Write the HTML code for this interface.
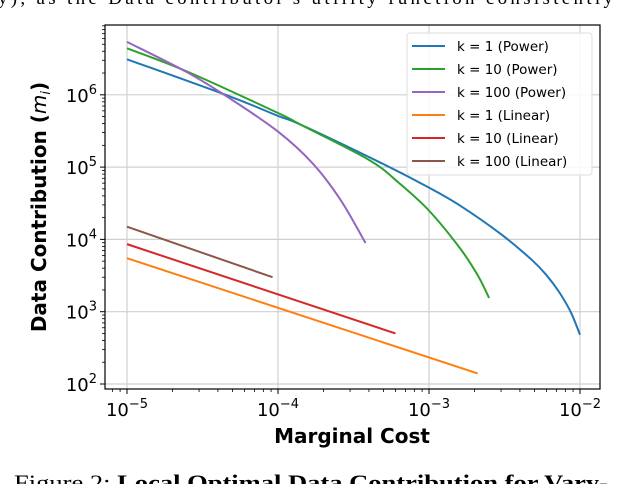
<!DOCTYPE html>
<html><head><meta charset="utf-8"><style>
html,body{margin:0;padding:0;background:#fff;width:622px;height:484px;overflow:hidden}
svg{display:block;font-family:"DejaVu Sans","Liberation Sans",sans-serif}
</style></head><body>
<svg id="c" width="622" height="484" viewBox="0 0 622 484"></svg>
<script>
const xTickExps=[-5,-4,-3,-2];
const yTickExps=[2,3,4,5,6];
const seriesNames=["k = 1 (Power)","k = 10 (Power)","k = 100 (Power)","k = 1 (Linear)","k = 10 (Linear)","k = 100 (Linear)"];
const seriesColors=["#1f77b4","#2ca02c","#9467bd","#ff7f0e","#d62728","#8c564b"];
const blueX=[1e-5,4.8e-5,1e-4,1.4e-4,4.7e-4,1e-3,1.6e-3,3e-3,4.8e-3,6e-3,7.3e-3,8.7e-3,1e-2];
const blueY=[3.1e6,9.5e5,5.1e5,3.9e5,1.17e5,5.2e4,2.95e4,1.18e4,5.2e3,3.2e3,1.85e3,980,480];
const greenX=[1e-5,2.5e-5,1e-4,1.4e-4,4e-4,6.4e-4,1e-3,1.6e-3,2.1e-3,2.5e-3];
const greenY=[4.4e6,2.1e6,5.6e5,3.9e5,1.26e5,5.9e4,2.5e4,7.6e3,3.2e3,1.55e3];
const purpleX=[1e-5,2.5e-5,4.8e-5,1e-4,1.7e-4,2.6e-4,3.8e-4];
const purpleY=[5.4e6,2.05e6,8.9e5,3.1e5,1.12e5,3.5e4,8.9e3];
const orangeX=[1e-5,2.1e-3];
const orangeY=[5.5e3,140];
const redX=[1e-5,6e-4];
const redY=[8.6e3,500];
const brownX=[1e-5,9.2e-5];
const brownY=[1.5e4,3.0e3];

const L=105,R=600,T=25,B=389;
const X0=127,XD=151,Y0=384,YD=72.3;
const xs=v=>X0+(Math.log10(v)+5)*XD;
const ys=v=>Y0-(Math.log10(v)-2)*YD;
const NS="http://www.w3.org/2000/svg";
const svg=document.getElementById('c');
function mk(t,a,p){const e=document.createElementNS(NS,t);for(const k in a)e.setAttribute(k,a[k]);(p||svg).appendChild(e);return e;}

let t=mk('text',{x:-2,y:4,'font-family':'Liberation Serif,serif','font-size':19,textLength:615});t.textContent="y), as the Data contributor's utility function consistently";

t=mk('text',{x:14,y:490,'font-family':'Liberation Serif,serif','font-size':22,textLength:594,lengthAdjust:'spacingAndGlyphs'});

t.innerHTML='Figure 2: <tspan font-weight="bold">Local Optimal Data Contribution for Vary-</tspan>';

const g=mk('g',{});
xTickExps.forEach(e=>{const x=xs(Math.pow(10,e));mk('line',{x1:x,x2:x,y1:T,y2:B,stroke:'#d0d0d0','stroke-width':1.2},g);});
yTickExps.forEach(e=>{const y=ys(Math.pow(10,e));mk('line',{x1:L,x2:R,y1:y,y2:y,stroke:'#d0d0d0','stroke-width':1.2},g);});

const sx=[blueX,greenX,purpleX,orangeX,redX,brownX],sy=[blueY,greenY,purpleY,orangeY,redY,brownY];
const names=['series-k1-power','series-k10-power','series-k100-power','series-k1-linear','series-k10-linear','series-k100-linear'];
sx.forEach((X,i)=>{
  const pts=X.map((v,j)=>[xs(v),ys(sy[i][j])]);
  let d='M'+pts[0][0]+','+pts[0][1];
  for(let j=0;j<pts.length-1;j++){
    const p0=pts[Math.max(0,j-1)],p1=pts[j],p2=pts[j+1],p3=pts[Math.min(pts.length-1,j+2)];
    const c1=[p1[0]+(p2[0]-p0[0])/6,p1[1]+(p2[1]-p0[1])/6],c2=[p2[0]-(p3[0]-p1[0])/6,p2[1]-(p3[1]-p1[1])/6];
    d+=' C'+c1+' '+c2+' '+p2;
  }
  const p=mk('path',{d:d,fill:'none',stroke:seriesColors[i],'stroke-width':2});
  
  
});

const f=mk('rect',{x:L,y:T,width:R-L,height:B-T,fill:'none',stroke:'#000','stroke-width':1.2});


xTickExps.forEach(e=>{const x=xs(Math.pow(10,e));mk('line',{x1:x,x2:x,y1:B,y2:B+5,stroke:'#000','stroke-width':1});
  const tx=mk('text',{x:x,y:B+27,'font-size':18,'text-anchor':'middle'});
  
  tx.innerHTML='10<tspan dy="-8" font-size="13">\u2212'+(-e)+'</tspan>';
  for(let m=2;m<10;m++){const v=m*Math.pow(10,e);const xx=xs(v);if(xx<R&&xx>L)mk('line',{x1:xx,x2:xx,y1:B,y2:B+3,stroke:'#000','stroke-width':0.8});}
});
for(let m=7;m<10;m++){const xx=xs(m*1e-6);if(xx>L)mk('line',{x1:xx,x2:xx,y1:B,y2:B+3,stroke:'#000','stroke-width':0.8});}
yTickExps.forEach(e=>{const y=ys(Math.pow(10,e));mk('line',{x1:L-5,x2:L,y1:y,y2:y,stroke:'#000','stroke-width':1});
  const ty=mk('text',{x:L-8,y:y+7,'font-size':18,'text-anchor':'end'});
  
  ty.innerHTML='10<tspan dy="-8" font-size="13">'+e+'</tspan>';
  for(let m=2;m<10;m++){const yy=ys(m*Math.pow(10,e));if(yy>T)mk('line',{x1:L-3,x2:L,y1:yy,y2:yy,stroke:'#000','stroke-width':0.8});}
});

t=mk('text',{x:352,y:443,'font-size':20,'font-weight':'bold','text-anchor':'middle'});t.textContent='Marginal Cost';

t=mk('text',{x:0,y:0,'font-size':20,'font-weight':'bold','text-anchor':'middle',transform:'translate(46,207) rotate(-90)'});
t.innerHTML='Data Contribution (<tspan font-style="italic" font-weight="normal">m</tspan><tspan font-style="italic" font-weight="normal" font-size="13" dy="4">i</tspan><tspan dy="-4">)</tspan>';


const lg=mk('g',{});
mk('rect',{x:407,y:33,width:185,height:142,rx:3,fill:'rgba(255,255,255,0.85)',stroke:'#ddd'},lg);
seriesNames.forEach((n,i)=>{const y=46+i*23;
  const e=mk('g',{},lg);
  mk('line',{x1:412,x2:445,y1:y,y2:y,stroke:seriesColors[i],'stroke-width':2},e);
  const tt=mk('text',{x:457,y:y+5,'font-size':13.5},e);tt.textContent=n;});
</script>
</body></html>
